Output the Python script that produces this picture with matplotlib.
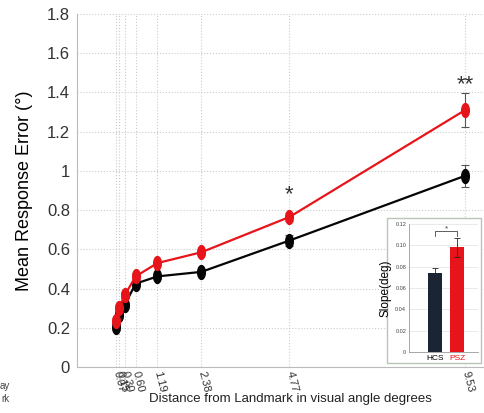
import numpy as np
import matplotlib
matplotlib.use("Agg")
import matplotlib.pyplot as plt
from matplotlib.path import Path
from matplotlib.patches import Rectangle

plt.rcParams["font.family"] = ["Liberation Sans", "DejaVu Sans"]

# main panel data
distances = [0.07, 0.15, 0.30, 0.60, 1.19, 2.38, 4.77, 9.53]
tick_labels = ["0.07", "0.15", "0.30", "0.60", "1.19", "2.38", "4.77", "9.53"]
psz_mean = [0.235, 0.30, 0.365, 0.462, 0.530, 0.585, 0.765, 1.31]
psz_err = [0.015, 0.015, 0.015, 0.015, 0.012, 0.012, 0.022, 0.085]
hcs_mean = [0.205, 0.265, 0.315, 0.425, 0.462, 0.485, 0.645, 0.975]
hcs_err = [0.015, 0.015, 0.012, 0.012, 0.012, 0.012, 0.030, 0.055]
y_ticks = [0, 0.2, 0.4, 0.6, 0.8, 1.0, 1.2, 1.4, 1.6, 1.8]
stars = {4.77: "*", 9.53: "**"}
star_y = [0.88, 1.44]

# inset data
groups = ["HCS", "PSZ"]
slope_mean = [0.074, 0.098]
slope_err = [0.005, 0.009]
inset_ticks = [0, 0.02, 0.04, 0.06, 0.08, 0.10, 0.12]
inset_tick_labels = ["0", "0.02", "0.04", "0.06", "0.08", "0.10", "0.12"]

RED = "#e8141b"
BLACK = "#050505"
NAVY = "#1b2433"

# tall ellipse marker
t = np.linspace(0, 2 * np.pi, 50)
ellipse = Path(np.c_[0.55 * np.cos(t), np.sin(t)], closed=True)

fig = plt.figure(figsize=(4.85, 4.13), dpi=100)
ax = fig.add_axes([77 / 485, 46 / 413, 408 / 485, 353 / 413])

for mean, err, col in [(hcs_mean, hcs_err, BLACK), (psz_mean, psz_err, RED)]:
    ax.errorbar(distances, mean, yerr=err, fmt="none", ecolor="#555555",
                elinewidth=0.8, capsize=3, capthick=0.8, zorder=2)
    ax.plot(distances, mean, color=col, lw=1.6, marker=ellipse, ms=10,
            mec=col, mfc=col, zorder=3)

for (x, s), y in zip(stars.items(), star_y):
    ax.text(x, y, s, ha="center", va="center", fontsize=16, color="#333333")

ax.set_xlim(-0.99, 10.07)
ax.set_ylim(0, 1.8)
ax.set_xticks(distances)
ax.set_xticklabels(tick_labels, rotation=-76, rotation_mode="anchor",
                   ha="left", va="center", fontsize=8, color="#333333")
ax.set_yticks(y_ticks)
ax.set_yticklabels([f"{v:g}" for v in y_ticks], fontsize=12, color="#333333")
ax.tick_params(length=0, pad=5)
ax.tick_params(axis="x", pad=3)
ax.grid(True, ls=":", color="#cccccc", lw=0.8)
ax.set_axisbelow(True)
for side in ("top", "right"):
    ax.spines[side].set_visible(False)
for side in ("left", "bottom"):
    ax.spines[side].set_color("#bbbbbb")
ax.set_ylabel("Mean Response Error (°)", fontsize=13, labelpad=10)
fig.text(290 / 485, 1 - 399 / 413, "Distance from Landmark in visual angle degrees",
         ha="center", va="center", fontsize=9.5, color="#222222")

# stray cropped text at lower left
fig.text(10 / 485, 1 - 386 / 413, "ay", ha="right", va="center", fontsize=7, color="#444444")
fig.text(10 / 485, 1 - 399 / 413, "rk", ha="right", va="center", fontsize=7, color="#444444")

# inset frame
fig.patches.append(Rectangle((387 / 485, 1 - 363 / 413), 94 / 485, 145 / 413,
                             transform=fig.transFigure, facecolor="white",
                             edgecolor="#b9c6b4", lw=1.0, zorder=4))
ins = fig.add_axes([409 / 485, 1 - 352 / 413, 69 / 485, 128 / 413], zorder=5)
ins.bar([0, 1], slope_mean, width=0.6, color=[NAVY, RED],
        yerr=slope_err, capsize=2, error_kw=dict(elinewidth=0.6, capthick=0.6, ecolor="#222222"))
ins.set_xlim(-1.18, 1.95)
ins.set_ylim(0, 0.12)
ins.set_yticks(inset_ticks)
ins.set_yticklabels(inset_tick_labels, fontsize=4, color="#444444")
ins.set_xticks([0, 1])
ins.set_xticklabels(groups, fontsize=6)
ins.get_xticklabels()[1].set_color(RED)
ins.tick_params(length=0, pad=2)
ins.grid(True, axis="y", color="#e6e6e6", lw=0.6)
ins.set_axisbelow(True)
for side in ("top", "right"):
    ins.spines[side].set_visible(False)
for side in ("left", "bottom"):
    ins.spines[side].set_color("#999999")
    ins.spines[side].set_linewidth(0.6)
ins.set_ylabel("Slope(deg)", fontsize=8.5, labelpad=3)
ins.plot([0, 0, 1, 1], [0.109, 0.113, 0.113, 0.109], color="#444444", lw=0.6)
ins.text(0.5, 0.1155, "*", ha="center", va="center", fontsize=6, color="#444444")

fig.savefig("out.png", dpi=100, facecolor="white")
